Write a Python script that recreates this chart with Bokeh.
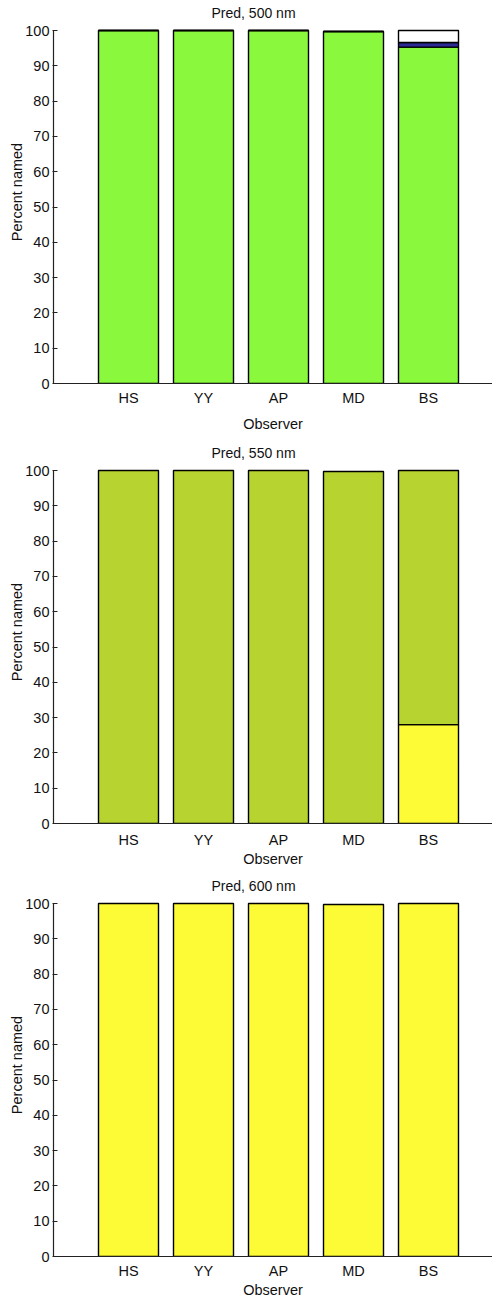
from bokeh.plotting import figure
from bokeh.layouts import column
from bokeh.models import Range1d, FixedTicker, Label
from bokeh.embed import file_html
from bokeh.resources import INLINE

# Naming percentages per observer for three "Pred" wavelengths
observers = ["HS", "YY", "AP", "MD", "BS"]

# 500 nm: stacked categories (green, blue, unnamed)
pred500_green = [100, 100, 100, 99.7, 95.3]
pred500_blue = [0, 0, 0, 0, 1.3]
pred500_white = [0, 0, 0, 0, 3.4]

# 550 nm: stacked categories (yellow at bottom, yellow-green above)
pred550_yellow = [0, 0, 0, 0, 28]
pred550_yelgreen = [100, 100, 100, 99.7, 72]

# 600 nm: yellow only
pred600_yellow = [100, 100, 100, 99.7, 100]

yticks = list(range(0, 101, 10))

FONT = "Liberation Sans"
GREEN = "#8AF83C"
BLUE = "#2C2C98"
OLIVE = "#B6D32F"
YELLOW = "#FDFB35"

PX_PER_UNIT = 3.53          # vertical scale of the percentage axis
FRAME_H = 383               # plot area includes the heading strip above 100 %
Y_TOP = FRAME_H / PX_PER_UNIT
HEAD_Y = (FRAME_H - 12) / PX_PER_UNIT


def make_panel(title, stacks, bottom_border, tick_standoff, label_standoff):
    xs = list(range(1, len(observers) + 1))
    p = figure(
        frame_width=439, frame_height=FRAME_H,
        x_range=Range1d(0, 439 / 75), y_range=Range1d(0, Y_TOP),
        output_backend="svg", toolbar_location=None,
        min_border_left=53, min_border_right=0,
        min_border_top=0, min_border_bottom=bottom_border,
    )
    # panel heading
    p.add_layout(Label(x=2.667, y=HEAD_Y, text=title, text_align="center",
                       text_baseline="middle", text_font=FONT,
                       text_font_size="14px", text_color="#111111"))
    bottom = [0.0] * len(observers)
    for vals, color in stacks:
        top = [b + v for b, v in zip(bottom, vals)]
        p.vbar(x=xs, width=0.8, bottom=bottom, top=top, fill_color=color,
               line_color="black", line_width=1.4)
        bottom = top

    p.grid.visible = False
    p.outline_line_color = None
    p.background_fill_color = "white"
    p.border_fill_color = "white"

    xa = p.xaxis[0]
    xa.ticker = FixedTicker(ticks=xs)
    xa.major_label_overrides = {i: name for i, name in zip(xs, observers)}
    xa.major_tick_in = 0
    xa.major_tick_out = 0
    xa.minor_tick_line_color = None
    xa.axis_line_color = "#222222"
    xa.axis_line_width = 1.2
    xa.axis_label = "Observer"
    xa.major_label_standoff = tick_standoff
    xa.axis_label_standoff = label_standoff

    ya = p.yaxis[0]
    ya.ticker = FixedTicker(ticks=yticks)
    ya.bounds = (0, 100)
    ya.major_tick_in = 4
    ya.major_tick_out = 1
    ya.minor_tick_line_color = None
    ya.axis_line_color = "#222222"
    ya.axis_line_width = 1.2
    ya.major_tick_line_color = "#222222"
    ya.axis_label = "Percent named"
    ya.major_label_standoff = 3
    ya.axis_label_standoff = -3

    for ax in (xa, ya):
        ax.major_label_text_font = FONT
        ax.major_label_text_font_size = "14.5px"
        ax.major_label_text_color = "#111111"
        ax.axis_label_text_font = FONT
        ax.axis_label_text_font_size = "14.5px"
        ax.axis_label_text_font_style = "normal"
        ax.axis_label_text_color = "#111111"
    return p


p1 = make_panel("Pred, 500 nm",
                [(pred500_green, GREEN), (pred500_blue, BLUE), (pred500_white, "white")],
                57, 6, 7)
p2 = make_panel("Pred, 550 nm",
                [(pred550_yellow, YELLOW), (pred550_yelgreen, OLIVE)],
                50, 8, 0)
p3 = make_panel("Pred, 600 nm",
                [(pred600_yellow, YELLOW)],
                42, 6, 0)

layout = column(p1, p2, p3, spacing=0)
open("out.html", "w").write(file_html(layout, INLINE))
